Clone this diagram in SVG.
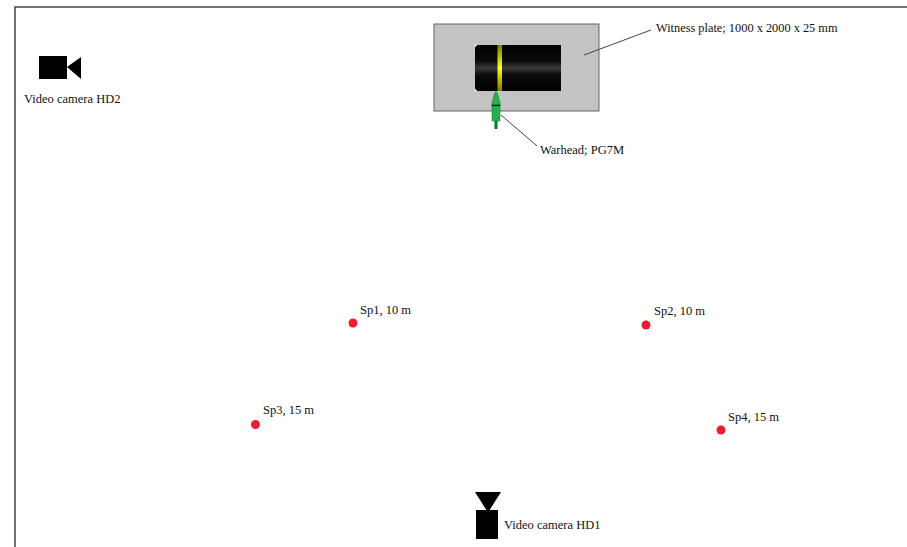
<svg xmlns="http://www.w3.org/2000/svg" width="907" height="547" viewBox="0 0 907 547">
<style>
text{font-family:"Liberation Serif","Times New Roman",serif;font-size:12.5px;fill:#111}
.s{fill:#ed1c2e}
.l{fill:none;stroke:#444;stroke-width:1}
</style>
<defs>
<linearGradient id="g" x1="0" y1="0" x2="0" y2="1">
<stop offset="0" stop-color="#000"/><stop offset=".35" stop-color="#0c0c0c"/><stop offset=".5" stop-color="#3a3a3a"/><stop offset=".65" stop-color="#0c0c0c"/><stop offset="1" stop-color="#000"/>
</linearGradient>
<linearGradient id="y" x1="0" y1="0" x2="0" y2="1">
<stop offset="0" stop-color="#7a7a00"/><stop offset=".5" stop-color="#ffff20"/><stop offset="1" stop-color="#7a7a00"/>
</linearGradient>
</defs>
<rect width="907" height="547" fill="#fff"/>
<path d="M15 547V7H907" fill="none" stroke="#444" stroke-width="1.5"/>
<g id="plate">
<rect x="434" y="24" width="165" height="87" fill="#c3c3c3" stroke="#666" stroke-width="1"/>
<path d="M475 45H561V91H475Z" fill="url(#g)"/>
<path d="M474.500 44.500H477.500L475 47.500ZM474.500 91.500H477.500L475 88.500Z" fill="#f2f2f2"/>
<rect x="497.500" y="45" width="4.500" height="46" fill="url(#y)"/>
</g>
<g id="warhead">
<rect x="494.500" y="120" width="3" height="9" fill="#0a7a30"/>
<rect x="492" y="105" width="8" height="16" fill="#22b14c" stroke="#0f7a30" stroke-width=".5"/>
<path d="M491.500 105L494 95L496 91L498 95L500.500 105Z" fill="#22b14c" stroke="#0f7a30" stroke-width=".5"/>
<path d="M492 105.500H500" stroke="#111" stroke-width="1.200"/>
</g>
<g id="connectors">
<path class="l" d="M584 55L651 30"/>
<path class="l" d="M501 115L537 146"/>
</g>
<g id="plate-label"><text x="656" y="32" style="font-size:12.35px">Witness plate; 1000 x 2000 x 25 mm</text></g>
<g id="warhead-label"><text x="540" y="154">Warhead; PG7M</text></g>
<g id="hd2">
<rect x="39" y="56" width="28" height="23" fill="#000"/>
<path d="M67 67L81 57V79Z" fill="#000"/>
<text x="24" y="103">Video camera HD2</text>
</g>
<g id="hd1">
<path d="M475 492H501L489 511H487Z" fill="#000"/>
<rect x="476" y="510" width="22" height="29" fill="#000"/>
<text x="504" y="529">Video camera HD1</text>
</g>
<g id="sp1"><circle class="s" cx="353" cy="323" r="4.500"/><text x="360" y="314">Sp1, 10 m</text></g>
<g id="sp2"><circle class="s" cx="646" cy="325" r="4.500"/><text x="654" y="315">Sp2, 10 m</text></g>
<g id="sp3"><circle class="s" cx="255.500" cy="424.500" r="4.500"/><text x="263" y="414">Sp3, 15 m</text></g>
<g id="sp4"><circle class="s" cx="721" cy="430" r="4.500"/><text x="728" y="421">Sp4, 15 m</text></g>
</svg>
